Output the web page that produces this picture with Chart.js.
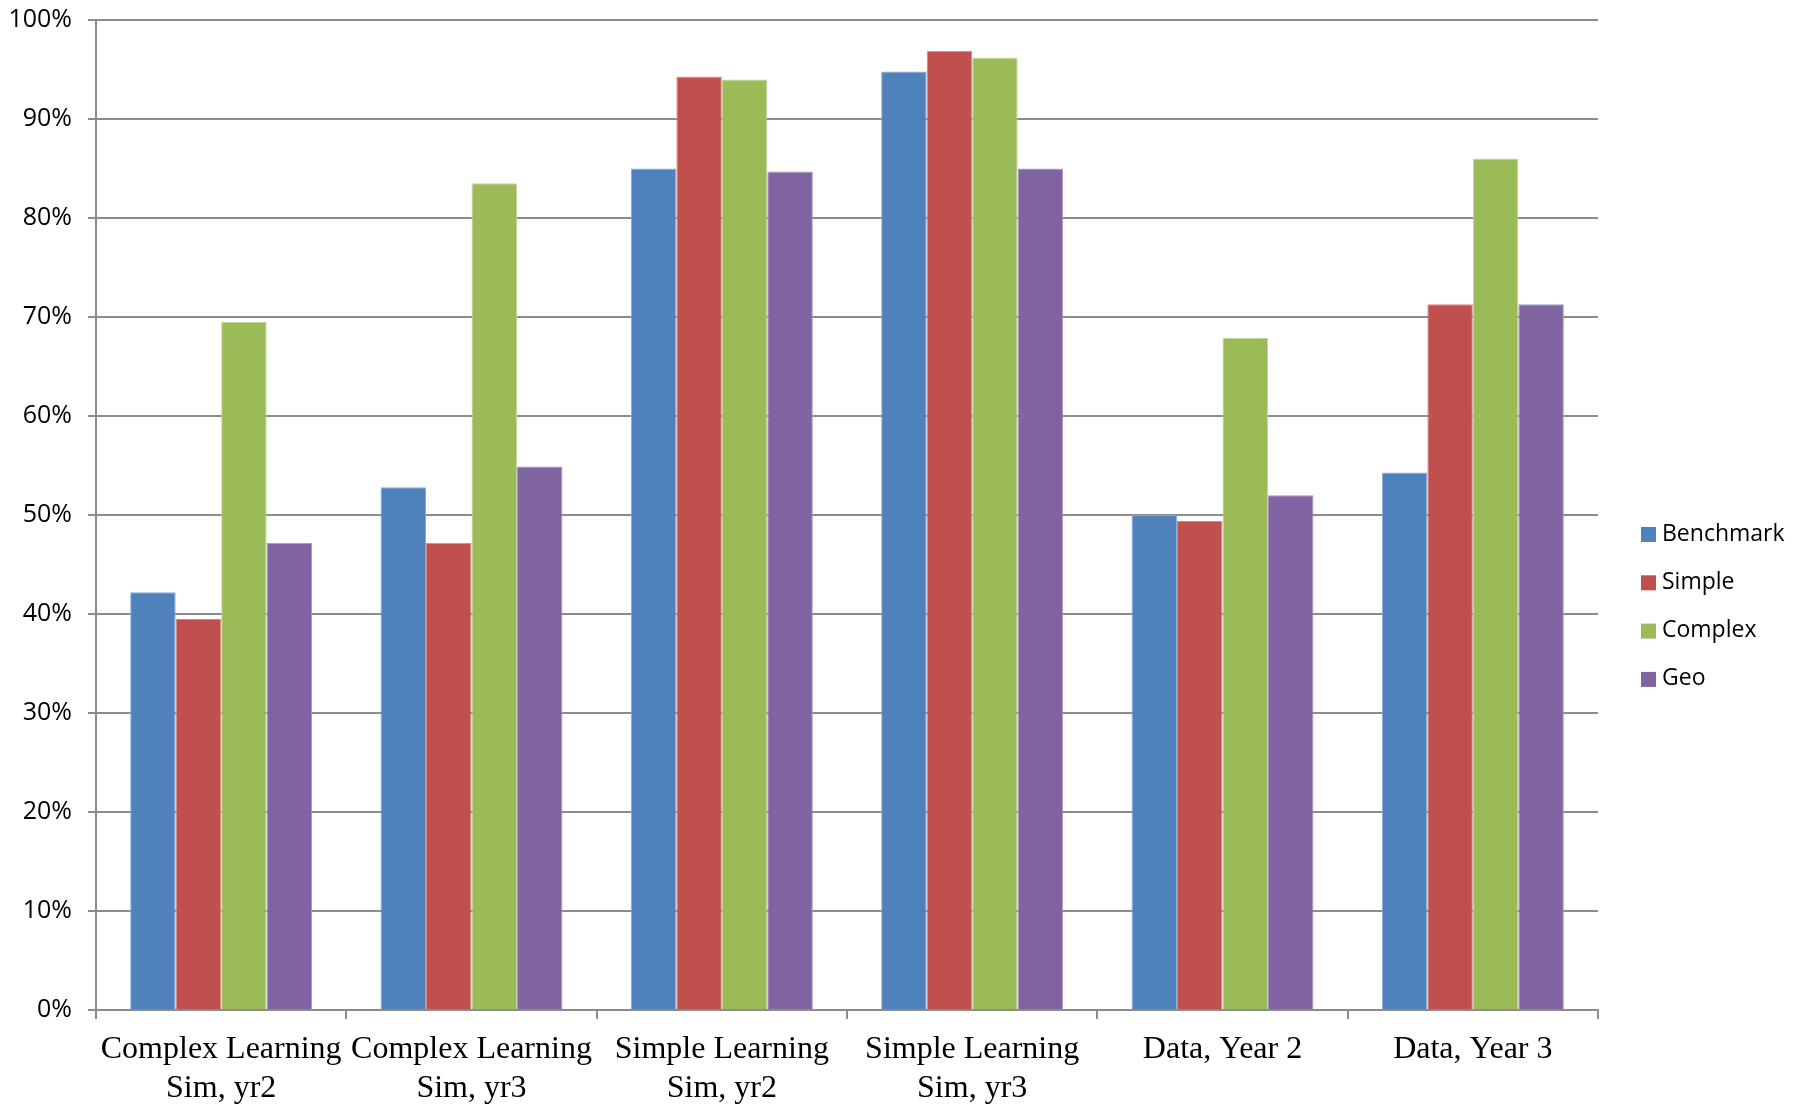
<!DOCTYPE html>
<html>
<head>
<meta charset="utf-8">
<script src="https://cdn.jsdelivr.net/npm/chart.js@4.4.1/dist/chart.umd.min.js"></script>
<style>
    html, body { margin: 0; padding: 0; background: #fff; }
    #wrap { width: 1804px; height: 1104px; }
</style>
</head>
<body>
<div id="wrap"><canvas id="bar-chart"></canvas></div>
<script>
// start: Data
const categories = [
    ['Complex Learning', 'Sim, yr2'],
    ['Complex Learning', 'Sim, yr3'],
    ['Simple Learning', 'Sim, yr2'],
    ['Simple Learning', 'Sim, yr3'],
    'Data, Year 2',
    'Data, Year 3'
]
const benchmark = [42.2, 52.8, 85.0, 94.8, 50.0, 54.3]
const simple = [39.5, 47.2, 94.3, 96.9, 49.4, 71.3]
const complex = [69.5, 83.5, 94.0, 96.2, 67.9, 86.0]
const geo = [47.2, 54.9, 84.7, 85.0, 52.0, 71.3]
const yTicks = [0, 10, 20, 30, 40, 50, 60, 70, 80, 90, 100]
// end: Data

const gridColor = '#8c8c8c'

function makeSet(label, data, fill, edge) {
    return {
        label: label,
        data: data,
        backgroundColor: fill,
        borderColor: edge,
        borderWidth: 1,
        borderSkipped: 'bottom',
        categoryPercentage: 0.727,
        barPercentage: 1.0
    }
}

// start: Legend (drawn at the right side like the original)
const sideLegend = {
    id: 'sideLegend',
    afterDraw(chart) {
        const ctx = chart.ctx
        ctx.save()
        ctx.font = '23px "Open Sans", "Noto Sans", sans-serif'
        ctx.textBaseline = 'middle'
        ctx.textAlign = 'left'
        chart.data.datasets.forEach(function (ds, i) {
            const y = 534 + i * 48.3
            ctx.fillStyle = ds.backgroundColor
            ctx.fillRect(1641, y - 7, 15, 15)
            ctx.fillStyle = '#000'
            ctx.fillText(ds.label, 1662, y)
        })
        ctx.restore()
    }
}
// end: Legend

new Chart(document.getElementById('bar-chart'), {
    type: 'bar',
    data: {
        labels: categories,
        datasets: [
            makeSet('Benchmark', benchmark, '#4f81bd', '#8aa9d3'),
            makeSet('Simple', simple, '#c0504d', '#d58a88'),
            makeSet('Complex', complex, '#9bbb59', '#c2d79a'),
            makeSet('Geo', geo, '#8064a2', '#a793bf')
        ]
    },
    options: {
        responsive: true,
        maintainAspectRatio: false,
        animation: false,
        layout: {
            padding: { top: 20, right: 206, left: 0, bottom: 0 }
        },
        plugins: {
            legend: { display: false },
            tooltip: { enabled: false }
        },
        scales: {
            x: {
                grid: {
                    display: true,
                    offset: true,
                    drawOnChartArea: false,
                    drawTicks: true,
                    tickLength: 9,
                    color: gridColor,
                    lineWidth: 2
                },
                border: { color: gridColor, width: 2 },
                ticks: {
                    color: '#000',
                    padding: 12,
                    maxRotation: 0,
                    autoSkip: false,
                    font: { family: '"Liberation Serif", "DejaVu Serif", serif', size: 32, lineHeight: 1.19 }
                },
                afterFit(scale) { scale.height = 94 }
            },
            y: {
                min: 0,
                max: 100,
                afterBuildTicks(scale) {
                    scale.ticks = yTicks.map(function (v) { return { value: v } })
                },
                grid: {
                    color: gridColor,
                    lineWidth: 2,
                    drawTicks: true,
                    tickLength: 8
                },
                border: { color: gridColor, width: 2 },
                ticks: {
                    color: '#000',
                    padding: 16,
                    font: { family: '"Open Sans", "Noto Sans", sans-serif', size: 25 },
                    callback: function (v) { return v + '%' }
                },
                afterFit(scale) {
                    scale.width = 96
                    scale.paddingTop = 0
                    scale.paddingBottom = 0
                }
            }
        }
    },
    plugins: [sideLegend]
});
</script>
</body>
</html>
